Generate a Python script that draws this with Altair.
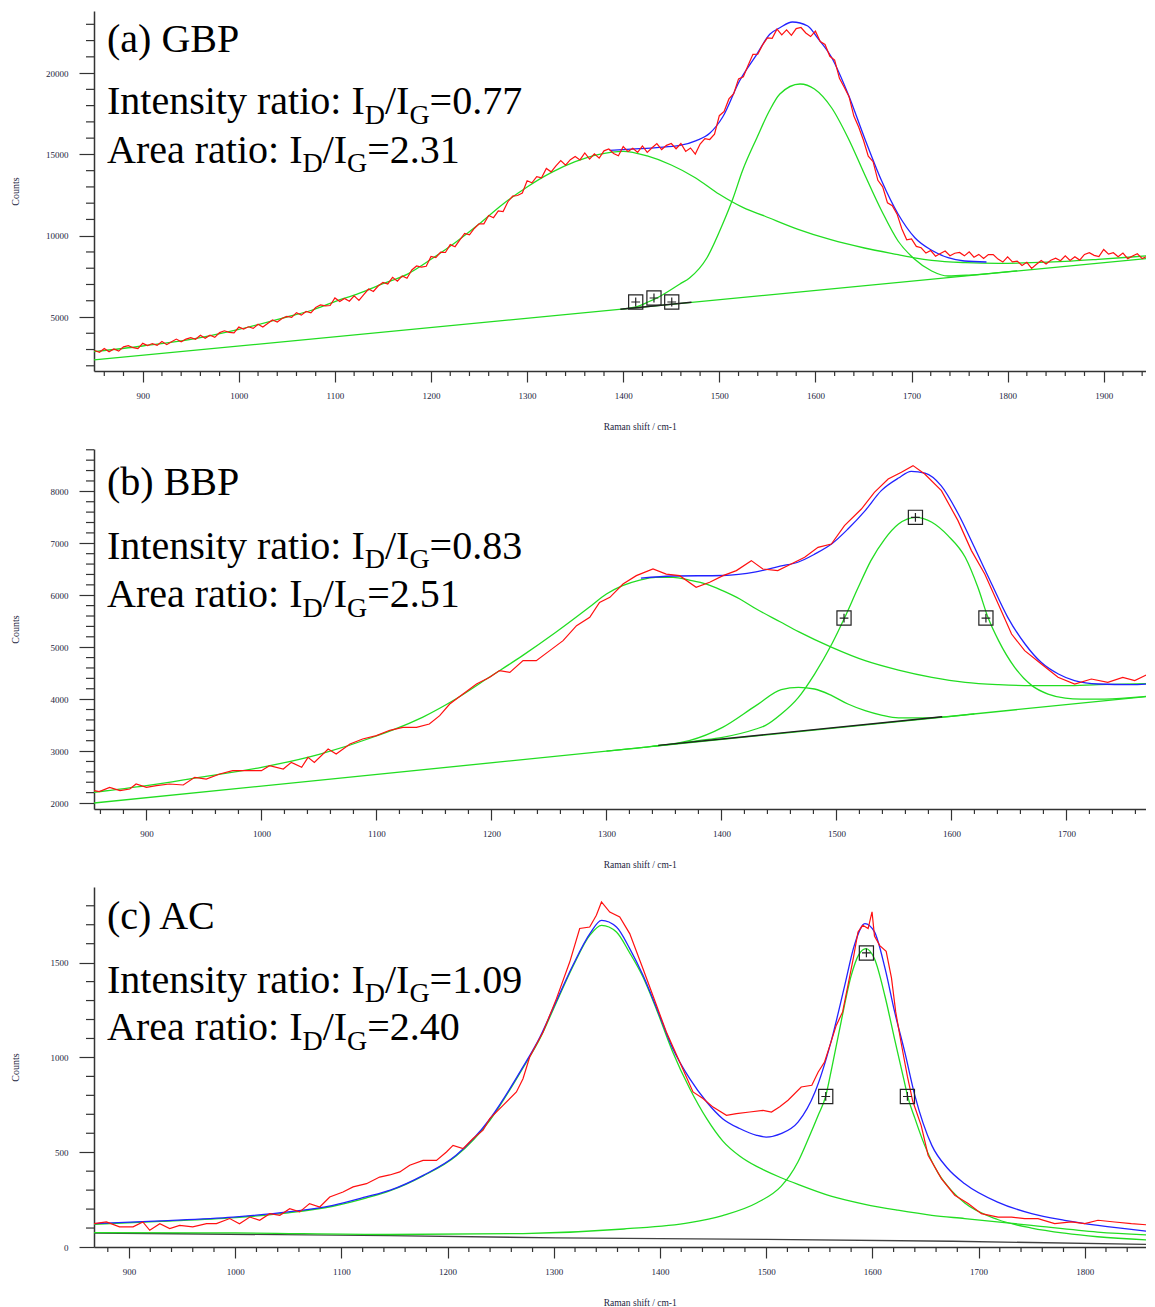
import altair as alt
import pandas as pd

# ---------------- Panel (a) GBP ----------------
A_XDOM = [849.3, 1944.0]
A_YDOM = [1679, 23819]
A_XMAJ = [900, 1000, 1100, 1200, 1300, 1400, 1500, 1600, 1700, 1800, 1900]
A_YMAJ = [5000, 10000, 15000, 20000]
A_YMIN = [2000, 3000, 4000, 6000, 7000, 8000, 9000, 11000, 12000, 13000, 14000,
          16000, 17000, 18000, 19000, 21000, 22000, 23000]
A_BASE_X = [849, 1953]
A_BASE_Y = [2356, 8647]
A_BLACK_X = [1397, 1471]
A_BLACK_Y = [5475, 5900]
A_D_X = [849, 900, 950, 1000, 1050, 1075, 1100, 1125, 1150, 1175, 1200, 1225, 1250, 1275,
         1300, 1325, 1350, 1375, 1400, 1425, 1450, 1475, 1500, 1525, 1547, 1582, 1616,
         1651, 1686, 1703, 1721, 1756, 1791, 1825, 1860, 1894, 1929, 1953]
A_D_Y = [2866, 3217, 3628, 4243, 5000, 5400, 5950, 6450, 7050, 7626, 8548, 9570, 10720, 11950,
         12995, 13876, 14551, 15006, 15190, 14902, 14348, 13567, 12546, 11722, 11212, 10392, 9752,
         9243, 8832, 8640, 8480, 8345, 8303, 8340, 8426, 8549, 8690, 8795]
A_G_X = [1400, 1415, 1425, 1435, 1459, 1469, 1487, 1503.5, 1514, 1524, 1539, 1552, 1563, 1584,
         1599, 1617, 1634, 1651, 1669, 1686, 1703, 1721, 1738, 1760, 1785, 1810]
A_G_Y = [5500, 5650, 5900, 6169, 7030, 7399, 8629, 10720, 12257, 13979, 16009, 17669, 18715, 19330,
         19022, 17854, 16009, 13795, 11519, 9674, 8567, 7829, 7521, 7580, 7700, 7835]
A_FIT_X = [1386, 1417, 1435, 1459, 1476, 1490, 1503.5, 1521, 1539, 1552.5, 1563, 1576, 1592, 1602,
           1617, 1634, 1651, 1669, 1686, 1703.5, 1721, 1738, 1755, 1778]
A_FIT_Y = [15250, 15350, 15420, 15550, 15850, 16300, 17300, 19514, 21156, 22386, 22792, 23143, 22897, 22177,
           20947, 18715, 16027, 13364, 11335, 9877, 9102, 8647, 8444, 8383]
A_RAW_X = list(range(850, 1956, 5))
A_RAW_Y = [2940, 2830, 3065, 2865, 3040, 2900, 3161, 3242, 3113, 3059, 3380, 3238, 3366, 3254, 3487, 3300, 3479, 3643, 3477, 3641,
           3730, 3632, 3879, 3691, 3878, 3750, 4041, 4152, 4053, 4029, 4380, 4254, 4398, 4302, 4551, 4380, 4605, 4815, 4695, 4905,
           5040, 4980, 5265, 5115, 5340, 5250, 5585, 5740, 5685, 5705,
           6170, 5956, 6138, 5968, 6304, 6024, 6382, 6718, 6570, 6906,
           7132, 7032, 7438, 7206, 7524, 7380, 7890, 8136, 8074, 8122,
           8720, 8656, 8988, 8968, 9454, 9324, 9742, 10138, 10050, 10446,
           10732, 10732, 11238, 11106, 11524, 11480, 12090, 12436, 12474, 12622,
           13380, 13254, 13632, 13562, 14136, 13926, 14288, 14622, 14340, 14674,
           14868, 14658, 15092, 14714, 15036, 14770, 15220, 15334, 15056, 14918,
           15480, 15174, 15372, 15122, 15516, 15126, 15408, 15662, 15300, 15554,
           15668, 15348, 15672, 15184, 15396, 15020, 15640, 15974, 15916, 16248,
           17380, 17644, 18412, 18732, 19646, 19776, 20478, 21152, 21160, 21734,
           22168, 22138, 22702, 22354, 22656, 22320, 22740, 22804, 22466, 22248,
           22580, 21944, 21762, 21032, 20796, 19676, 19128, 18552, 17360, 16684,
           15868, 14888, 14552, 13404, 13006, 12020, 11840, 11324, 10416, 9748,
           9800, 9340, 9260, 8930, 9090, 8740, 8910, 9060, 8770, 8920,
           8970, 8760, 9010, 8680, 8850, 8600, 8840, 8840, 8560, 8380,
           8700, 8390, 8440, 8170, 8360, 7990, 8240, 8470, 8260, 8490,
           8620, 8460, 8760, 8480, 8700, 8500, 8850, 8960, 8790, 8720,
           9150, 8870, 8950, 8710, 8930, 8590, 8750, 8890, 8590, 8730,
           8770, 8550]
A_MARK_X = [1413, 1432, 1450.5]
A_MARK_Y = [5922, 6169, 5922]

# ---------------- Panel (b) BBP ----------------
B_XDOM = [854.4, 1769.2]
B_YDOM = [1885, 8815]
B_XMAJ = [900, 1000, 1100, 1200, 1300, 1400, 1500, 1600, 1700]
B_YMAJ = [2000, 3000, 4000, 5000, 6000, 7000, 8000]
B_YMIN = [2200, 2400, 2600, 2800, 3200, 3400, 3600, 3800, 4200, 4400, 4600, 4800,
          5200, 5400, 5600, 5800, 6200, 6400, 6600, 6800, 7200, 7400, 7600, 7800,
          8200, 8400, 8600, 8800]
B_BASE_X = [854, 1777]
B_BASE_Y = [2000, 4067]
B_BLACK_X = [1345, 1592]
B_BLACK_Y = [3110, 3660]
B_D_X = [854, 900, 946, 1000, 1051, 1100, 1140, 1169, 1198, 1227, 1256, 1285, 1300, 1314,
         1329, 1343, 1358, 1372, 1387, 1401, 1416, 1430, 1451, 1467, 1496, 1525, 1554, 1583,
         1612, 1641, 1670, 1699, 1728, 1777]
B_D_Y = [2206, 2335, 2495, 2687, 2943, 3290, 3650, 4002, 4420, 4837, 5286, 5767, 6023, 6185,
         6293, 6345, 6345, 6293, 6216, 6088, 5927, 5740, 5490, 5300, 4997, 4741, 4560, 4420,
         4323, 4279, 4260, 4260, 4279, 4304]
B_D3_X = [1300, 1343, 1372, 1401, 1430, 1452, 1467, 1481, 1496, 1510, 1525, 1539, 1554, 1575, 1600, 1620]
B_D3_Y = [2999, 3100, 3201, 3457, 3875, 4183, 4227, 4195, 4067, 3906, 3779, 3694, 3640, 3640, 3670, 3716]
B_G_X = [1340, 1358, 1380, 1401, 1430, 1438, 1452, 1467, 1481, 1496, 1507, 1519, 1530, 1542, 1554,
         1569, 1583, 1597, 1612, 1623, 1632, 1641, 1655, 1670, 1684, 1699, 1713, 1728, 1756, 1777]
B_G_Y = [3090, 3135, 3200, 3265, 3425, 3490, 3713, 4035, 4483, 5061, 5561, 6152, 6666, 7082, 7371,
         7500, 7404, 7147, 6730, 6152, 5561, 5126, 4612, 4260, 4098, 4021, 4002, 4000, 4029, 4070]
B_FIT_X = [1330, 1358, 1401, 1430, 1451, 1467, 1481, 1496, 1510, 1525, 1539, 1554, 1565, 1577, 1591,
           1606, 1620, 1635, 1649, 1664, 1678, 1693, 1707, 1728, 1756, 1777]
B_FIT_Y = [6330, 6370, 6380, 6450, 6560, 6640, 6790, 6990, 7275, 7630, 8014, 8256, 8385, 8350, 8110,
           7563, 6922, 6216, 5575, 5061, 4708, 4483, 4356, 4291, 4279, 4300]
B_RAW_X = [854.4, 859, 868, 877, 885.5, 891, 900, 908.7, 920, 932, 942, 952, 963.7, 975, 987, 1000,
           1007, 1019, 1026, 1035, 1040.5, 1046, 1058, 1065, 1077, 1088, 1100, 1111.6, 1123, 1134.8,
           1146, 1155, 1163.7, 1175.3, 1187, 1198.5, 1207, 1216, 1227.5, 1239, 1250.7, 1262.3, 1274,
           1285.5, 1294, 1303, 1314.4, 1326, 1340.5, 1352, 1363.7, 1378, 1389.8, 1401.4, 1413, 1426,
           1436, 1449, 1463.7, 1472.4, 1484, 1495.6, 1507, 1521.7, 1533, 1545, 1556.5, 1566.6, 1576.8,
           1591.3, 1605.7, 1617.4, 1629, 1640.7, 1652.3, 1663.7, 1678.2, 1692.7, 1707.2, 1721.7, 1736,
           1749, 1759.4, 1771, 1777]
B_RAW_Y = [2239, 2219, 2302, 2239, 2270, 2366, 2302, 2335, 2366, 2347, 2495, 2462, 2558, 2623, 2623, 2623,
           2720, 2655, 2783, 2687, 2880, 2783, 3040, 2943, 3136, 3232, 3297, 3400, 3457, 3457,
           3521, 3682, 3906, 4098, 4291, 4420, 4549, 4516, 4741, 4741, 4934, 5126, 5415,
           5575, 5863, 5960, 6216, 6377, 6505, 6408, 6377, 6152, 6249, 6377, 6474, 6666,
           6505, 6474, 6634, 6730, 6922, 6986, 7340, 7659, 7981, 8237, 8366, 8495, 8333,
           8014, 7436, 6859, 6408, 5831, 5253, 4934, 4676, 4420, 4291, 4387, 4323,
           4420, 4356, 4483, 4580]
B_MARK_X = [1506.6, 1568.7, 1630]
B_MARK_Y = [5561, 7500, 5561]

# ---------------- Panel (c) AC ----------------
C_XDOM = [867.0, 1857.7]
C_YDOM = [0, 1899]
C_XMAJ = [900, 1000, 1100, 1200, 1300, 1400, 1500, 1600, 1700, 1800]
C_YMAJ = [0, 500, 1000, 1500]
C_YMIN = [100, 200, 300, 400, 600, 700, 800, 900, 1100, 1200, 1300, 1400, 1600, 1700, 1800]
C_BLACK_X = [867, 1145, 1302, 1500, 1676, 1866]
C_BLACK_Y = [74, 60, 48, 40, 30, 13]
C_D_X = [867, 930, 1000, 1050, 1092, 1123, 1146, 1177, 1208, 1240, 1271, 1287, 1302, 1318, 1334,
         1345, 1359, 1371, 1384, 1397, 1412, 1428, 1444, 1459, 1475, 1491, 1499, 1513, 1530, 1561,
         1593, 1624, 1656, 1687, 1750, 1812, 1866]
C_D_Y = [120, 135, 155, 180, 215, 258, 297, 375, 480, 670, 945, 1100, 1285, 1480, 1645,
         1697, 1662, 1556, 1424, 1249, 1029, 836, 677, 560, 480, 425, 403, 368, 330, 268,
         225, 194, 167, 150, 114, 79, 62]
C_G_X = [867, 1000, 1146, 1271, 1366, 1428, 1459, 1491, 1514, 1522, 1530, 1540, 1549, 1556, 1562,
         1571, 1580, 1587, 1594, 1602, 1612, 1621, 1630, 1633, 1640, 1649, 1662, 1675, 1687, 1718,
         1750, 1781, 1812, 1866]
C_G_Y = [76, 74, 66, 71, 95, 128, 166, 232, 320, 375, 450, 575, 695, 794, 950,
         1200, 1430, 1540, 1574, 1520, 1320, 1095, 875, 800, 680, 540, 390, 295, 232, 145,
         100, 73, 54, 35]
C_FIT_X = [867, 930, 998, 1050, 1092, 1123, 1146, 1177, 1208, 1240, 1271, 1287, 1302, 1318, 1334,
           1345, 1359, 1371.5, 1384, 1397, 1412, 1428, 1444, 1459, 1475, 1491, 1500, 1514, 1530,
           1546, 1561, 1574, 1583, 1593, 1602, 1612, 1621, 1630.5, 1640, 1656, 1671, 1687, 1718,
           1750, 1781, 1812.5, 1866]
C_FIT_Y = [123, 138, 158, 185, 220, 264, 300, 378, 484, 677, 950, 1108, 1292, 1486, 1653,
           1723, 1688, 1574, 1433, 1258, 1047, 888, 765, 677, 625, 589, 580, 598, 659,
           818, 1081, 1380, 1591, 1706, 1662, 1468, 1240, 1029, 800, 536, 414, 334, 237,
           176, 141, 114, 79]
C_RAW_X = [867, 878.7, 891, 903.8, 913, 919.5, 929, 938.3, 947.7, 960, 973, 982.3, 994.8, 1004, 1013.7,
           1023, 1032.5, 1042, 1051.3, 1060.7, 1070, 1079.6, 1089, 1101.5, 1111, 1123.6, 1136, 1145.5,
           1155, 1164.3, 1176.9, 1189.5, 1198.9, 1205.1, 1214.5, 1224, 1233.4, 1239.7, 1252.2, 1264.8,
           1271, 1277.3, 1289.9, 1302.5, 1315, 1324.4, 1333.8, 1340.1, 1344.9, 1352.7, 1362.1, 1371.5,
           1384, 1396.7, 1406, 1418.6, 1431.1, 1440.5, 1450, 1462.6, 1472, 1484.5, 1497, 1505, 1512.8,
           1520.6, 1533, 1543, 1549, 1555, 1561, 1566, 1572, 1577, 1582, 1586.5, 1591, 1596, 1599.7,
           1602, 1607, 1613, 1618, 1622, 1627, 1633, 1638, 1646, 1652.5, 1665, 1677.6, 1690.2, 1702.7,
           1718.4, 1731, 1743.5, 1756, 1771.7, 1787.5, 1800, 1812.5, 1828.2, 1843.9, 1866]
C_RAW_Y = [123, 132, 106, 106, 132, 88, 123, 97, 114, 106, 123, 123, 150, 123, 158,
           141, 176, 167, 202, 185, 229, 211, 264, 290, 317, 334, 369, 380,
           396, 431, 457, 457, 501, 536, 519, 572, 616, 677, 747, 818,
           888, 1002, 1134, 1310, 1503, 1680, 1688, 1750, 1820, 1767, 1741, 1653,
           1468, 1275, 1134, 976, 818, 783, 738, 695, 704, 712, 721, 712, 740,
           774, 844, 853, 923, 976, 1081, 1169, 1240, 1380, 1521, 1662, 1697, 1680, 1768,
           1640, 1590, 1560, 1420, 1240, 1080, 900, 770, 640, 484, 361, 273, 229, 176,
           158, 158, 150, 150, 123, 132, 123, 141, 132, 123, 114]
C_MARK_X = [1556.1, 1594.4, 1633]
C_MARK_Y = [794, 1551, 794]

TEXTS = {
    "a": ("(a) GBP", "0.77", "2.31"),
    "b": ("(b) BBP", "0.83", "2.51"),
    "c": ("(c) AC", "1.09", "2.40"),
}

# ---------------- style ----------------
W, H = 1052, 360
SERIF = "Liberation Serif"
AX = "#333333"
LAB = "#1c2540"
RED = "#ff1010"
BLUE = "#2222ff"
GREEN = "#22dd22"
BLACK = "#202020"
MARK = "M-1,-1L1,-1L1,1L-1,1Z M-0.62,0L0.62,0 M0,-0.62L0,0.62"


def minor_x(xdom):
    vals = []
    v = 20 * (int(xdom[0]) // 20 + 1)
    while v < xdom[1]:
        if v % 100 != 0:
            vals.append(v)
        v += 20
    return vals


def panel(key, xdom, ydom, xmaj, ymaj, ymin, lines, marks, text_y):
    X = alt.X("x:Q", scale=alt.Scale(domain=xdom, nice=False, zero=False),
              axis=alt.Axis(values=xmaj, format="d", title="Raman shift / cm-1", grid=False,
                            tickSize=11, tickWidth=1.2, tickColor=AX, domainColor=AX, domainWidth=1.5,
                            labelFont=SERIF, labelFontSize=9, labelColor=LAB, labelPadding=13,
                            labelBaseline="middle", labelFlush=False,
                            titleFont=SERIF, titleFontSize=9.5, titleFontWeight="normal", titleColor=LAB,
                            titleX=545.7, titleY=55, titleAlign="center", titleBaseline="middle",
                            titleAngle=0))
    Y = alt.Y("y:Q", scale=alt.Scale(domain=ydom, nice=False, zero=False),
              axis=alt.Axis(values=ymaj, format="d", title="Counts", grid=False,
                            tickSize=15, tickWidth=1.2, tickColor=AX, domainColor=AX, domainWidth=1.5,
                            labelFont=SERIF, labelFontSize=9, labelColor=LAB, labelPadding=11,
                            labelFlush=False,
                            titleFont=SERIF, titleFontSize=10, titleFontWeight="normal", titleColor=LAB,
                            titleX=-79, titleY=H / 2, titleAlign="center", titleBaseline="middle",
                            titleAngle=270))
    layers = []
    layers.append(alt.Chart(pd.DataFrame({"y": ymin})).mark_rule(color=AX, strokeWidth=1.2)
                  .encode(y=Y, x=alt.value(-8), x2=alt.value(0)))
    layers.append(alt.Chart(pd.DataFrame({"x": minor_x(xdom)})).mark_rule(color=AX, strokeWidth=1.2)
                  .encode(x=X, y=alt.value(H), y2=alt.value(H + 5)))
    for xs, ys, color, width, interp in lines:
        df = pd.DataFrame({"x": xs, "y": ys})
        layers.append(alt.Chart(df).mark_line(color=color, strokeWidth=width, clip=True,
                                              interpolate=interp).encode(x=X, y=Y))
    mdf = pd.DataFrame({"x": marks[0], "y": marks[1]})
    layers.append(alt.Chart(mdf).mark_point(shape=MARK, size=200, filled=False, color="#222222",
                                            strokeWidth=1.2, opacity=1).encode(x=X, y=Y))
    title, ri, ra = TEXTS[key]
    ty, iy, ay = text_y
    x0 = 13
    pieces = [
        (title, x0, ty, 40),
        ("Intensity ratio: I", x0, iy, 40), ("D", x0 + 257.8, iy + 9.5, 28),
        ("/I", x0 + 278.0, iy, 40), ("G", x0 + 302.4, iy + 9.5, 28), ("=" + ri, x0 + 322.6, iy, 40),
        ("Area ratio: I", x0, ay, 40), ("D", x0 + 195.5, ay + 9.5, 28),
        ("/I", x0 + 215.7, ay, 40), ("G", x0 + 240.1, ay + 9.5, 28), ("=" + ra, x0 + 260.3, ay, 40),
    ]
    for t, px, py, fs in pieces:
        layers.append(alt.Chart(alt.Data(values=[{}])).mark_text(
            text=t, font=SERIF, fontSize=fs, align="left", baseline="alphabetic", color="black"
        ).encode(x=alt.value(px), y=alt.value(py)))
    return alt.layer(*layers).properties(
        width=W, height=H,
        view=alt.ViewBackground(stroke="transparent", strokeWidth=0, fill="white"))


pa = panel("a", A_XDOM, A_YDOM, A_XMAJ, A_YMAJ, A_YMIN, [
    (A_BASE_X, A_BASE_Y, GREEN, 1.3, "linear"),
    (A_D_X, A_D_Y, GREEN, 1.3, "monotone"),
    (A_G_X, A_G_Y, GREEN, 1.3, "monotone"),
    (A_BLACK_X, A_BLACK_Y, BLACK, 1.5, "linear"),
    (A_FIT_X, A_FIT_Y, BLUE, 1.3, "monotone"),
    (A_RAW_X, A_RAW_Y, RED, 1.2, "linear"),
], (A_MARK_X, A_MARK_Y), (41, 103.3, 151.7))

pb = panel("b", B_XDOM, B_YDOM, B_XMAJ, B_YMAJ, B_YMIN, [
    (B_BASE_X, B_BASE_Y, GREEN, 1.3, "linear"),
    (B_D_X, B_D_Y, GREEN, 1.3, "monotone"),
    (B_D3_X, B_D3_Y, GREEN, 1.3, "monotone"),
    (B_G_X, B_G_Y, GREEN, 1.3, "monotone"),
    (B_BLACK_X, B_BLACK_Y, BLACK, 1.4, "linear"),
    (B_FIT_X, B_FIT_Y, BLUE, 1.3, "monotone"),
    (B_RAW_X, B_RAW_Y, RED, 1.2, "linear"),
], (B_MARK_X, B_MARK_Y), (46.3, 109.7, 158))

pc = panel("c", C_XDOM, C_YDOM, C_XMAJ, C_YMAJ, C_YMIN, [
    (C_BLACK_X, C_BLACK_Y, "#404040", 1.4, "linear"),
    (C_D_X, C_D_Y, GREEN, 1.3, "monotone"),
    (C_G_X, C_G_Y, GREEN, 1.3, "monotone"),
    (C_FIT_X, C_FIT_Y, BLUE, 1.3, "monotone"),
    (C_RAW_X, C_RAW_Y, RED, 1.2, "linear"),
], (C_MARK_X, C_MARK_Y), (41.7, 105.7, 153.3))

chart = alt.vconcat(pa, pb, pc, spacing=78, bounds="flush").properties(
    padding={"left": 2, "top": 3, "right": 0, "bottom": 0}
).configure_view(stroke="transparent", strokeWidth=0).configure(background="white")

chart.save("out.html", embed_options={"renderer": "svg", "actions": False})
